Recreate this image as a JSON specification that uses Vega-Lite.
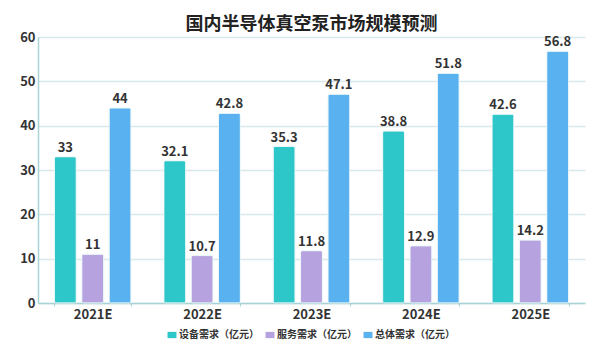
{
  "$schema": "https://vega.github.io/schema/vega-lite/v6.json",
  "width": 547,
  "height": 266,
  "autosize": {"type": "none"},
  "padding": {"left": 38, "top": 37, "right": 29, "bottom": 47},
  "background": "white",
  "config": {
    "font": "Noto Sans CJK SC",
    "view": {"stroke": null}
  },
  "title": {
    "text": "国内半导体真空泵市场规模预测",
    "fontSize": 18,
    "fontWeight": "bold",
    "color": "#222222",
    "anchor": "middle",
    "offset": -3
  },
  "data": {
    "values": [
      {"year": "2021E", "series": "设备需求（亿元）", "value": 33},
      {"year": "2021E", "series": "服务需求（亿元）", "value": 11},
      {"year": "2021E", "series": "总体需求（亿元）", "value": 44},
      {"year": "2022E", "series": "设备需求（亿元）", "value": 32.1},
      {"year": "2022E", "series": "服务需求（亿元）", "value": 10.7},
      {"year": "2022E", "series": "总体需求（亿元）", "value": 42.8},
      {"year": "2023E", "series": "设备需求（亿元）", "value": 35.3},
      {"year": "2023E", "series": "服务需求（亿元）", "value": 11.8},
      {"year": "2023E", "series": "总体需求（亿元）", "value": 47.1},
      {"year": "2024E", "series": "设备需求（亿元）", "value": 38.8},
      {"year": "2024E", "series": "服务需求（亿元）", "value": 12.9},
      {"year": "2024E", "series": "总体需求（亿元）", "value": 51.8},
      {"year": "2025E", "series": "设备需求（亿元）", "value": 42.6},
      {"year": "2025E", "series": "服务需求（亿元）", "value": 14.2},
      {"year": "2025E", "series": "总体需求（亿元）", "value": 56.8}
    ]
  },
  "encoding": {
    "x": {
      "field": "year",
      "type": "nominal",
      "title": null,
      "scale": {"paddingInner": 0.3, "paddingOuter": 0.15},
      "axis": {
        "labelAngle": 0,
        "labelFontSize": 13,
        "labelFontWeight": "bold",
        "labelColor": "#333333",
        "labelPadding": 2,
        "domainColor": "#a9d3d6",
        "domainWidth": 1.5,
        "tickColor": "#a9d3d6",
        "tickSize": 3,
        "tickBand": "extent",
        "grid": false
      }
    },
    "xOffset": {
      "field": "series",
      "type": "nominal",
      "sort": ["设备需求（亿元）", "服务需求（亿元）", "总体需求（亿元）"],
      "scale": {"paddingInner": 0.2, "paddingOuter": 0}
    },
    "y": {
      "field": "value",
      "type": "quantitative",
      "title": null,
      "scale": {"domain": [0, 60], "nice": false},
      "axis": {
        "values": [0, 10, 20, 30, 40, 50, 60],
        "labelFontSize": 13,
        "labelFontWeight": "bold",
        "labelColor": "#333333",
        "labelPadding": 3,
        "ticks": false,
        "domainColor": "#a9d3d6",
        "domainWidth": 1.5,
        "gridColor": "#d8e8eb",
        "gridWidth": 1.5
      }
    }
  },
  "layer": [
    {
      "mark": {"type": "bar", "cornerRadius": 2, "stroke": "#e8f6f8", "strokeWidth": 0.8},
      "encoding": {
        "color": {
          "field": "series",
          "type": "nominal",
          "sort": ["设备需求（亿元）", "服务需求（亿元）", "总体需求（亿元）"],
          "scale": {
            "domain": ["设备需求（亿元）", "服务需求（亿元）", "总体需求（亿元）"],
            "range": ["#2ec7c9", "#b6a2de", "#5ab1ef"]
          },
          "legend": {
            "title": null,
            "orient": "none",
            "legendX": 129,
            "legendY": 293,
            "direction": "horizontal",
            "padding": 0,
            "labelFontSize": 10,
            "labelFontWeight": "bold",
            "labelColor": "#333333",
            "symbolType": "M-1,-0.7H1V0.7H-1Z",
            "symbolSize": 80,
            "symbolStrokeWidth": 0,
            "labelOffset": 2,
            "columnPadding": 6,
            "symbolOpacity": 1
          }
        }
      }
    },
    {
      "mark": {"type": "text", "dy": -9, "fontSize": 13, "fontWeight": "bold", "color": "#333333"},
      "encoding": {
        "text": {"field": "value", "type": "quantitative"}
      }
    }
  ]
}
